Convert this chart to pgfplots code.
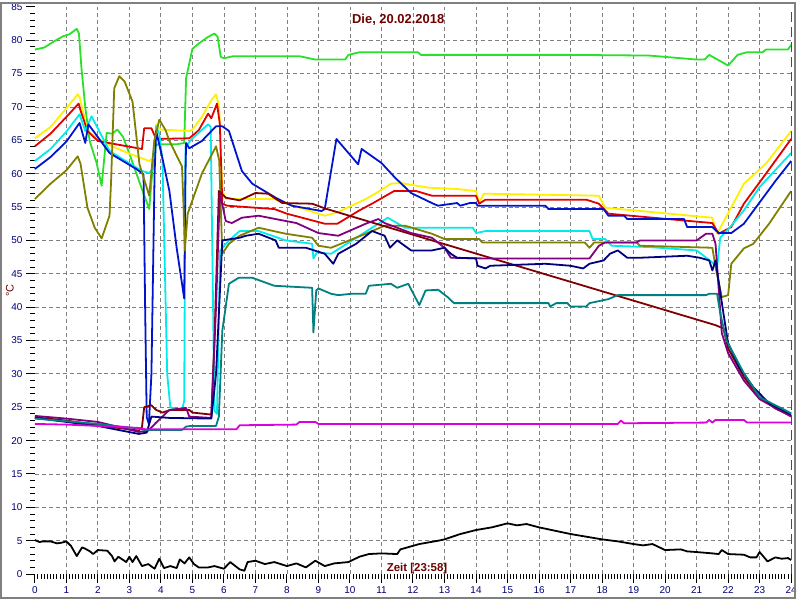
\documentclass[border=0pt]{standalone}
\usepackage{fontspec}
\setmainfont{Liberation Sans}
\usepackage{pgfplots}
\pgfplotsset{compat=1.18}

\definecolor{cGreen}{RGB}{40,225,40}
\definecolor{cYellow}{RGB}{255,240,0}
\definecolor{cRed}{RGB}{225,0,0}
\definecolor{cCyan}{RGB}{0,235,235}
\definecolor{cBlue}{RGB}{0,20,205}
\definecolor{cOlive}{RGB}{128,128,0}
\definecolor{cMaroon}{RGB}{128,0,0}
\definecolor{cPurple}{RGB}{128,0,128}
\definecolor{cNavy}{RGB}{0,0,128}
\definecolor{cTeal}{RGB}{0,128,128}
\definecolor{cMagenta}{RGB}{220,0,220}
\definecolor{cLabel}{RGB}{0,0,120}
\definecolor{cTitle}{RGB}{110,0,0}
\definecolor{cNow}{RGB}{0,128,0}

\begin{document}
\begin{tikzpicture}
\begin{axis}[
    name=ax, at={(0,0)}, anchor=south west,
    scale only axis, width=760pt, height=570pt,
    xmin=0, xmax=24, ymin=0, ymax=85,
    axis x line*=bottom, axis y line*=left,
    axis line style={draw=none},
    xtick={0,...,24}, ytick={0,5,...,85},
    minor x tick num=9, minor y tick num=4,
    tick align=outside,
    major tick length=9pt, minor tick length=5pt,
    tick style={black, line width=1pt},
    extra x ticks={1,...,23}, extra x tick labels={},
    extra y ticks={5,10,...,80}, extra y tick labels={},
    extra tick style={grid=major, tick style={draw=none}},
    major grid style={gray, line width=0.8pt, dash pattern=on 4pt off 3pt},
    ticklabel style={font=\fontsize{10}{12}\selectfont, text=cLabel},
    /pgf/number format/assume math mode=true,
    clip=false,
    every axis plot/.append style={line width=1.8pt, line join=round, mark=none},
]

% green
\addplot[cGreen] coordinates {
(0,78.6) (0.3,78.9) (0.6,79.8) (0.9,80.6) (1.1,80.9) (1.33,81.7) (1.4,81.0) (1.48,75.8) (1.6,70) (1.74,64.9) (1.96,61.6) (2.12,58.2) (2.28,66.1) (2.45,66.0) (2.62,66.6) (2.8,65.5) (3.0,63.0) (3.42,57.4) (3.63,54.7) (3.79,63.8) (3.9,64.4) (4.5,64.4) (4.74,64.6) (4.8,74.3) (5.0,78.7) (5.2,79.5) (5.5,80.5) (5.7,81.0) (5.8,80.5) (5.9,77.5) (6.0,77.3) (6.3,77.6) (8.4,77.6) (8.9,77.1) (9.85,77.1) (9.95,77.8) (10.3,78.2) (12.15,78.2) (12.25,77.8) (17.0,77.8) (19.5,77.7) (21.0,77.1) (21.25,77.1) (21.4,77.8) (22.0,76.2) (22.3,77.8) (22.6,78.2) (23.1,78.2) (23.2,78.6) (23.9,78.6) (24.0,79.3)
};
% yellow
\addplot[cYellow] coordinates {
(0,65.3) (0.5,67) (1.0,69.8) (1.36,71.9) (1.42,71.5) (1.67,66.4) (2.0,65.2) (2.5,64.0) (3.0,63.0) (3.63,61.9) (3.8,62.5) (3.85,67.4) (4.0,66.6) (4.9,66.4) (5.0,66.6) (5.3,68.5) (5.6,71.0) (5.75,71.9) (5.85,70) (5.95,57.5) (6.06,56.2) (7.6,56.2) (8.0,55.5) (9.2,53.7) (9.6,54.2) (10.5,56.2) (10.8,57.0) (11.3,58.5) (11.6,58.6) (12.5,57.9) (13.4,57.7) (14.0,57.4) (14.1,55.6) (14.25,57.0) (17.9,56.7) (18.1,54.9) (21.5,53.4) (21.65,51.0) (22.5,58.5) (23.2,61.5) (24,66.4)
};
% red
\addplot[cRed] coordinates {
(0,64.1) (0.5,66) (1.0,68.5) (1.39,70.5) (1.45,69.5) (1.67,66.4) (2.0,64.9) (3.4,63.7) (3.47,66.8) (3.7,66.8) (3.85,65.2) (4.9,65.3) (5.2,66.5) (5.5,69.0) (5.6,68.3) (5.78,70.5) (5.87,67.5) (5.95,55.5) (6.1,55.2) (7.6,54.7) (8.0,54.0) (9.2,52.5) (9.6,52.5) (10.3,54.5) (10.7,55.5) (11.4,57.4) (12.1,57.4) (12.6,56.7) (14.0,56.7) (14.1,55.5) (14.3,56.1) (17.5,56.1) (17.9,55.5) (18.2,54.0) (21.5,52.6) (21.7,51.0) (22.1,52.0) (22.5,55.5) (23.2,60.0) (24,65.2)
};
% cyan
\addplot[cCyan] coordinates {
(0,61.9) (0.5,63.7) (1.0,66.3) (1.42,68.9) (1.6,66.4) (1.8,68.6) (2.37,63.4) (3.4,60.4) (3.63,60.1) (3.8,61) (3.85,67.1) (3.95,66) (4.05,62) (4.2,30) (4.3,25.0) (4.67,24.5) (4.74,26) (4.78,64.0) (5.0,65.3) (5.5,67.4) (5.58,67.0) (5.7,24.5) (5.78,24.0) (5.88,48.5) (6.16,50.0) (6.5,51.4) (7.1,51.4) (7.96,50.0) (8.8,49.5) (8.84,47.3) (8.95,48.2) (9.4,48.0) (10.7,51.9) (11.2,53.4) (11.75,51.9) (13.9,51.9) (14.0,51.1) (14.3,51.4) (17.6,51.4) (17.7,50.2) (18.1,50.2) (18.3,49.2) (19.5,49.0) (21.0,48.5) (21.5,46.7) (21.65,46.0) (21.75,50.4) (22.1,52.2) (22.5,54.5) (23.0,58.0) (24,63.1)
};
% blue
\addplot[cBlue] coordinates {
(0,60.7) (0.5,62.5) (1.0,64.8) (1.42,67.6) (1.6,64.6) (1.7,67.4) (2.37,63.1) (3.22,60.7) (3.45,59.9) (3.5,40) (3.55,23.5) (3.62,22.5) (3.7,30) (3.8,60) (3.85,66.4) (4.05,62.3) (4.27,57.4) (4.5,48.9) (4.74,41.3) (4.78,60) (4.8,64.6) (4.9,63.8) (5.3,64.9) (5.75,67.1) (5.95,67.1) (6.16,66.4) (6.57,60.4) (6.9,58.5) (7.64,56.4) (8.15,55.2) (9.1,54.4) (9.2,54.7) (9.57,65.2) (10.26,61.4) (10.37,63.7) (11.0,61.6) (11.43,59.4) (11.94,57.1) (12.6,55.6) (12.79,55.2) (13.4,55.6) (13.5,55.2) (13.8,55.6) (14.0,55.6) (14.05,55.2) (16.2,55.2) (16.3,54.7) (18.05,54.7) (18.2,53.7) (18.7,53.7) (18.8,53.2) (20.6,53.2) (20.7,52.0) (21.5,52.0) (21.7,51.1) (22.1,51.1) (22.5,52.5) (23.5,58.9) (24,61.9)
};
% olive
\addplot[cOlive] coordinates {
(0,56.2) (0.5,58.5) (1.0,60.5) (1.36,62.6) (1.45,61.5) (1.67,54.9) (1.9,51.9) (2.12,50.3) (2.37,53.7) (2.42,58.9) (2.47,65.9) (2.52,72.8) (2.68,74.6) (2.85,73.8) (3.1,70.8) (3.32,61.4) (3.63,56.7) (3.79,64.9) (3.95,68.1) (4.15,66.5) (4.27,64.9) (4.67,61.1) (4.72,55) (4.76,48.5) (4.85,54.0) (5.3,60) (5.75,64.1) (5.85,62) (5.95,48.0) (6.16,49.5) (6.5,50.7) (7.1,51.9) (7.96,51.0) (8.8,50.4) (9.0,49.2) (9.4,48.9) (10.5,51.0) (11.1,52.2) (11.75,52.2) (12.6,51.0) (13.0,50.2) (14.1,50.2) (14.2,49.7) (17.45,49.7) (17.6,48.9) (17.75,49.7) (19.1,49.7) (19.2,49.2) (21.5,48.9) (21.6,46) (21.8,41.5) (22.0,41.8) (22.1,46.5) (22.5,48.8) (22.8,49.5) (23.3,52.5) (24,57.4)
};
% maroon
\addplot[cMaroon] coordinates {
(0,23.5) (1.0,23.0) (2.0,22.3) (3.3,21.5) (3.4,22) (3.47,25.0) (3.7,25.3) (3.85,24.6) (4.05,24.2) (4.3,24.6) (4.9,24.6) (5.0,24.2) (5.6,23.9) (5.7,35) (5.84,57.4) (6.06,56.4) (6.5,56.0) (7.0,57.1) (7.4,57.0) (7.85,55.6) (8.8,55.5) (9.2,54.8) (21.6,37.3) (21.85,36.8) (22.0,33.8) (22.5,29.5) (23.0,26.5) (23.5,24.8) (24,23.7)
};
% purple
\addplot[cPurple] coordinates {
(0,23.7) (1.0,23.3) (2.0,22.8) (3.3,21.3) (3.6,21.5) (3.85,22.7) (4.05,23.6) (4.27,24.6) (4.8,24.9) (4.9,23.6) (5.6,23.4) (5.75,40) (5.87,57.1) (6.06,52.9) (6.25,52.6) (6.57,53.4) (7.1,53.7) (7.64,53.2) (8.3,52.6) (9.0,51.1) (9.63,50.7) (10.5,52.5) (10.9,53.2) (11.1,52.6) (11.5,51.9) (11.94,51.1) (12.6,50.4) (13.0,48.9) (13.2,47.4) (14.2,47.3) (17.6,47.3) (17.9,49.2) (18.1,49.7) (19.1,49.7) (19.2,50.0) (21.0,50.0) (21.3,51.0) (21.5,51.0) (21.6,49.5) (21.8,36.1) (22.0,33.1) (22.5,29.0) (23.0,26.2) (24,23.6)
};
% navy
\addplot[cNavy] coordinates {
(0,23.4) (1.0,22.8) (2.0,22.2) (3.3,21.0) (3.55,21.2) (3.7,23.6) (4.27,23.4) (5.6,23.3) (5.75,30) (5.95,50.0) (6.5,50.4) (6.7,50.7) (7.1,51.0) (7.64,50.0) (7.74,48.9) (8.6,48.9) (9.2,48.0) (9.47,46.5) (9.63,48.0) (10.2,49.5) (10.7,51.4) (11.1,50.7) (11.27,48.9) (11.5,50.0) (11.94,48.5) (12.6,48.5) (13.0,48.9) (13.2,48.0) (13.4,47.4) (14.0,47.3) (14.05,46.2) (14.3,45.8) (14.45,46.2) (16.2,46.5) (17.0,46.2) (17.4,45.8) (17.6,46.5) (18.05,47.0) (18.25,48.0) (18.5,48.5) (18.8,47.4) (19.2,47.4) (20.7,47.7) (21.1,47.4) (21.4,47.0) (21.5,45.5) (21.6,47.0) (21.85,39.1) (22.0,34.6) (22.35,31.0) (22.8,28.0) (23.3,25.6) (24,23.9)
};
% teal
\addplot[cTeal] coordinates {
(0,23.3) (1.0,22.9) (2.0,22.5) (3.3,21.8) (3.5,21.6) (4.67,21.6) (4.8,22.1) (4.95,22.2) (5.75,22.2) (5.84,23.6) (5.95,36.5) (6.16,43.5) (6.47,44.4) (6.9,44.4) (7.6,43.2) (8.8,42.9) (8.84,36.2) (8.93,42.5) (9.0,42.8) (9.4,42.0) (9.63,41.8) (10.05,42.0) (10.5,42.0) (10.6,43.2) (11.3,43.5) (11.5,42.9) (11.85,43.5) (12.2,40.3) (12.4,42.5) (12.8,42.6) (13.1,41.5) (13.3,40.6) (16.3,40.6) (16.35,40.1) (16.55,40.6) (16.9,40.6) (17.0,40.1) (17.5,40.1) (17.6,40.6) (18.2,41.2) (18.5,41.8) (21.3,41.8) (21.4,42.0) (21.65,42.0) (21.75,39.1) (21.95,35.0) (22.5,30.1) (23.0,26.5) (24,24.1)
};
% magenta
\addplot[cMagenta] coordinates {
(0,22.5) (1.0,22.4) (2.0,22.2) (3.3,21.9) (3.5,21.7) (6.4,21.7) (6.5,22.3) (8.3,22.4) (8.4,22.8) (8.9,22.8) (9.0,22.5) (18.5,22.5) (18.6,23.0) (18.7,22.6) (21.3,22.7) (21.4,23.1) (21.5,22.7) (21.6,23.1) (22.5,23.1) (22.6,22.7) (24,22.7)
};
% black
\addplot[black] coordinates {
(0,5.1) (0.15,4.8) (0.25,4.9) (0.5,4.9) (0.7,4.6) (0.85,4.7) (1.0,4.9) (1.15,4.2) (1.33,2.7) (1.5,4.0) (1.6,3.8) (1.75,3.4) (1.85,3.0) (2.0,3.6) (2.3,3.5) (2.45,2.7) (2.53,1.9) (2.65,2.6) (2.9,1.8) (3.0,2.6) (3.1,1.8) (3.22,2.7) (3.4,1.2) (3.6,1.5) (3.8,0.8) (3.95,2.3) (4.1,0.9) (4.3,1.2) (4.5,0.9) (4.6,2.2) (4.75,1.6) (4.9,2.5) (5.05,1.5) (5.2,1.0) (5.5,1.0) (5.7,1.2) (6.0,0.8) (6.2,1.8) (6.5,0.7) (6.65,0.5) (6.75,1.8) (7.0,2.0) (7.3,1.5) (7.6,1.8) (8.0,1.2) (8.3,1.6) (8.6,1.0) (8.9,2.0) (9.2,1.2) (9.5,1.6) (9.95,1.8) (10.3,2.6) (10.6,3.0) (11.0,3.1) (11.5,3.0) (11.6,3.7) (12.2,4.5) (12.8,5.0) (13.0,5.2) (13.5,6.0) (14.0,6.6) (14.5,7.0) (15.0,7.6) (15.3,7.3) (15.6,7.5) (16.0,7.0) (16.5,6.5) (17.0,6.0) (17.5,5.6) (18.0,5.2) (18.5,4.9) (19.0,4.5) (19.3,4.3) (19.6,4.5) (20.0,3.6) (20.5,3.7) (20.7,3.4) (21.0,3.3) (21.5,3.1) (21.7,3.0) (21.8,3.6) (22.0,3.0) (22.5,2.9) (22.7,2.5) (22.9,2.5) (23.0,3.3) (23.25,1.9) (23.5,2.5) (23.7,2.3) (23.9,2.4) (24,2.1)
};

\draw[cNow, line width=1pt, dash pattern=on 10pt off 5pt] (axis cs:24,0) -- (axis cs:24,85);
\node[text=cTitle, font=\bfseries\fontsize{13}{15}\selectfont] at (axis cs:11.53,83.1) {Die, 20.02.2018};
\node[text=cTitle, font=\bfseries\fontsize{11.5}{13}\selectfont] at (axis cs:12.13,0.9) {Zeit [23:58]};
\node[text=cTitle, rotate=90, font=\fontsize{11}{13}\selectfont] at (axis cs:-0.79,42.5) {°C};
\end{axis}
\path[use as bounding box] ([xshift=-35pt,yshift=-25pt]ax.south west) rectangle ([xshift=5pt,yshift=5pt]ax.north east);
\draw[gray, line width=2pt] ([xshift=-34pt,yshift=-24pt]ax.south west) rectangle ([xshift=4pt,yshift=4pt]ax.north east);
\end{tikzpicture}
\end{document}
